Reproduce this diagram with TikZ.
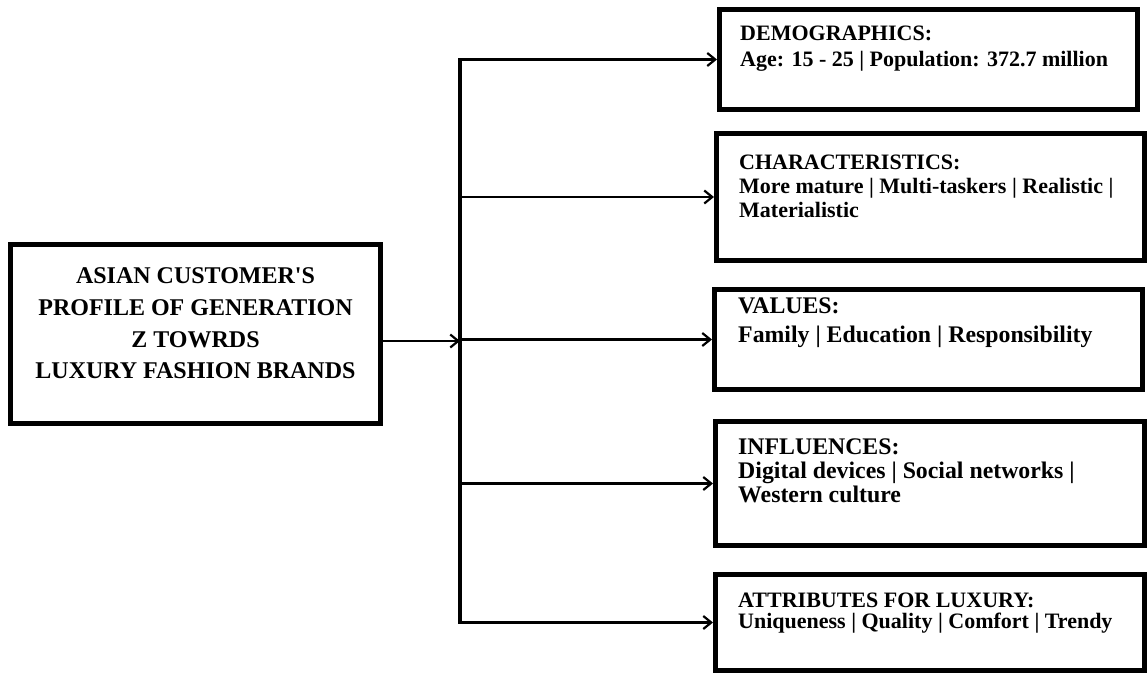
\documentclass[tikz,border=0pt]{standalone}
\usepackage{fontspec}
\setmainfont{Liberation Serif}
\usetikzlibrary{arrows.meta}
\begin{document}
\begin{tikzpicture}[x=1pt,y=-1pt,
  box/.style={draw=black,line width=5pt,fill=white,inner sep=0pt},
  mainline/.style={font=\fontsize{24}{30}\selectfont\bfseries,anchor=base,inner sep=0pt},
  boxline/.style={font=\fontsize{22}{26}\selectfont\bfseries,anchor=base west,inner sep=0pt},
  bigline/.style={boxline,font=\fontsize{23.8}{28}\selectfont\bfseries},
  link/.style={line width=2.5pt,-{Straight Barb[length=8pt,width=13pt,line width=2.2pt]}},
  spine/.style={line width=3.5pt}]
\useasboundingbox (0,0) rectangle (1148,673);

% central profile box
\node[box,minimum width=370pt,minimum height=179pt] (profile) at (195.5,334) {};
\node[mainline] (p1) at (195.5,283) {ASIAN CUSTOMER\textquotesingle S};
\node[mainline] (p2) at (195.5,315) {PROFILE OF GENERATION};
\node[mainline] (p3) at (195.5,347) {Z TOWRDS};
\node[mainline] (p4) at (195.5,378) {LUXURY FASHION BRANDS};

% category boxes
\node[box,minimum width=418pt,minimum height=100pt] (demo) at (928.5,59.5) {};
\node[box,minimum width=428pt,minimum height=127pt] (char) at (930.5,197) {};
\node[box,minimum width=428pt,minimum height=100pt] (vals) at (928.5,339.5) {};
\node[box,minimum width=429pt,minimum height=124pt] (infl) at (930,483.5) {};
\node[box,minimum width=429pt,minimum height=96pt] (attr) at (930,622.5) {};

\node[boxline] (d1) at (740,40.5) {DEMOGRAPHICS:};
\node[boxline] (d2) at (740,66.5) {Age: 15 - 25 | Population: 372.7 million};

\node[boxline] (c1) at (739,169) {CHARACTERISTICS:};
\node[boxline] (c2) at (739,193) {More mature | Multi-taskers | Realistic |};
\node[boxline] (c3) at (739,217) {Materialistic};

\node[bigline] (v1) at (738,313) {VALUES:};
\node[bigline] (v2) at (738,342) {Family | Education | Responsibility};

\node[bigline] (i1) at (738,454) {INFLUENCES:};
\node[bigline] (i2) at (738,478) {Digital devices | Social networks |};
\node[bigline] (i3) at (738,502) {Western culture};

\node[boxline] (a1) at (738,607) {ATTRIBUTES FOR LUXURY:};
\node[boxline] (a2) at (738,628) {Uniqueness | Quality | Comfort | Trendy};

% connectors
\coordinate (top) at (460,58);
\coordinate (bottom) at (460,624);
\coordinate (hub) at (460,341);
\coordinate (out) at (383,341);
\draw[spine] (top) -- (bottom);
\draw[link] (out) -- (hub);
\draw[link] (top |- demo.west) -- (demo.west);
\draw[link] (top |- char.west) -- (char.west);
\draw[link] (top |- vals.west) -- (vals.west);
\draw[link] (top |- infl.west) -- (infl.west);
\draw[link] (top |- attr.west) -- (attr.west);
\end{tikzpicture}
\end{document}
